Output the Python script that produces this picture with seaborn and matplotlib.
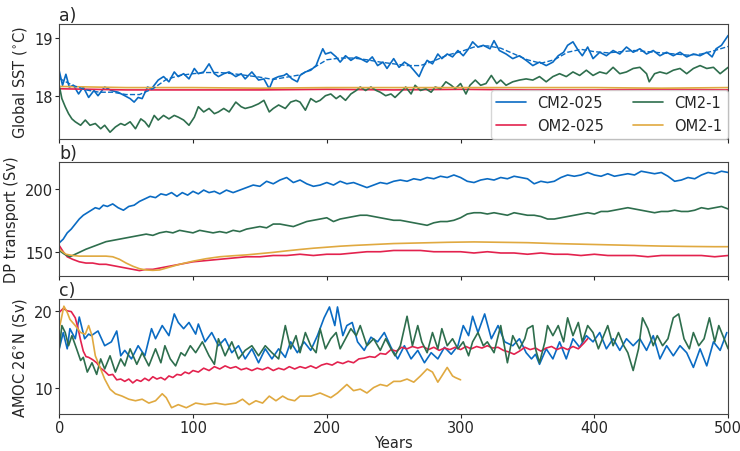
import matplotlib
matplotlib.use("agg")
import matplotlib.pyplot as plt
import seaborn as sns

# colours of the four runs
C_CM025 = "#0a6bc3"
C_OM025 = "#e3224e"
C_CM1 = "#2e6e4d"
C_OM1 = "#e0a940"

# ---- panel a: global SST (deg C) ----
sst_cm025_yr = [0, 2.5, 5, 7.5, 10.7, 14.5, 18, 22, 26, 29, 34, 39, 44, 49, 53, 56, 59, 62, 66, 69,
                74, 78, 82, 86, 89, 93, 97, 101, 104, 108, 112, 116, 119, 123, 127, 132, 136, 139, 144, 149,
                153, 157, 160, 164, 168, 170, 174, 178, 180, 184, 188, 192, 194, 197, 199, 203, 207, 210, 214, 218,
                222, 225, 230, 234, 238, 242, 245, 250, 254, 258, 262, 265, 269, 272, 275, 279, 283, 286, 290, 294,
                298, 302, 306, 309, 313, 317, 322, 325, 329, 334, 339, 344, 349, 354, 359, 364, 369, 373, 377, 380,
                384, 388, 391, 395, 399, 404, 409, 414, 419, 424, 429, 434, 439, 444, 449, 454, 459, 464, 469, 474,
                479, 484, 488, 491, 495, 500]
sst_cm025 = [18.43, 18.18, 18.37, 18.15, 18.18, 18.03, 18.15, 17.97, 18.09, 18.00, 18.15, 18.09, 18.06, 18.00, 17.95, 17.89, 17.97, 17.95, 18.15, 18.12,
             18.27, 18.33, 18.24, 18.41, 18.33, 18.38, 18.29, 18.47, 18.38, 18.41, 18.55, 18.38, 18.33, 18.38, 18.41, 18.33, 18.38, 18.29, 18.41, 18.27,
             18.29, 18.12, 18.29, 18.33, 18.35, 18.38, 18.29, 18.24, 18.35, 18.41, 18.44, 18.52, 18.64, 18.81, 18.72, 18.75, 18.67, 18.58, 18.69, 18.61,
             18.67, 18.64, 18.58, 18.67, 18.52, 18.58, 18.47, 18.64, 18.49, 18.58, 18.52, 18.44, 18.33, 18.49, 18.61, 18.55, 18.72, 18.64, 18.72, 18.67,
             18.78, 18.69, 18.81, 18.93, 18.84, 18.87, 18.81, 18.95, 18.78, 18.72, 18.64, 18.69, 18.61, 18.52, 18.58, 18.52, 18.58, 18.69, 18.75, 18.87,
             18.93, 18.78, 18.69, 18.84, 18.64, 18.75, 18.69, 18.78, 18.72, 18.84, 18.75, 18.81, 18.72, 18.78, 18.69, 18.75, 18.69, 18.75, 18.67, 18.72,
             18.69, 18.75, 18.67, 18.81, 18.87, 19.04]
sst_cm025_smooth_yr = list(range(0, 501, 10))
sst_cm025_smooth = [18.30, 18.18, 18.10, 18.06, 18.06, 18.02, 18.02, 18.12, 18.28, 18.35, 18.38, 18.40, 18.40, 18.38, 18.35, 18.32, 18.28,
                    18.32, 18.36, 18.48, 18.62, 18.65, 18.65, 18.62, 18.58, 18.55, 18.52, 18.52, 18.60, 18.70, 18.76, 18.84, 18.86, 18.82,
                    18.72, 18.62, 18.56, 18.62, 18.75, 18.80, 18.76, 18.74, 18.76, 18.78, 18.76, 18.74, 18.72, 18.70, 18.72, 18.78, 18.85]
sst_cm1_yr = [0, 2, 4.5, 7, 9.5, 12, 16, 19.5, 23, 27, 31, 34, 38, 42, 46, 49, 53, 57, 61, 64,
              67, 71, 74, 78, 82, 86, 89, 93, 97, 101, 104, 108, 112, 116, 119, 123, 127, 132, 136, 139,
              144, 149, 153, 157, 160, 164, 169, 173, 177, 180, 184, 188, 192, 195, 199, 203, 207, 210, 214, 218,
              222, 225, 229, 233, 237, 240, 244, 248, 251, 255, 259, 263, 266, 270, 274, 278, 281, 285, 289, 293,
              296, 300, 304, 307, 311, 315, 319, 323, 327, 330, 334, 339, 344, 349, 354, 359, 364, 369, 374, 379,
              384, 389, 394, 399, 404, 409, 414, 419, 424, 429, 434, 439, 441, 445, 449, 454, 459, 464, 469, 474,
              479, 484, 489, 494, 500]
sst_cm1 = [18.18, 17.95, 17.81, 17.69, 17.60, 17.55, 17.49, 17.58, 17.49, 17.52, 17.43, 17.49, 17.37, 17.46, 17.52, 17.49, 17.55, 17.43, 17.60, 17.55,
           17.46, 17.66, 17.58, 17.66, 17.60, 17.66, 17.63, 17.58, 17.49, 17.63, 17.81, 17.72, 17.78, 17.69, 17.72, 17.78, 17.72, 17.89, 17.81, 17.78,
           17.81, 17.86, 17.92, 17.72, 17.78, 17.84, 17.78, 17.89, 17.92, 17.89, 17.75, 17.95, 17.89, 17.92, 18.00, 18.03, 17.95, 18.00, 17.92, 18.03,
           18.09, 18.15, 18.09, 18.15, 18.09, 18.06, 18.00, 18.03, 17.97, 18.06, 18.15, 18.03, 18.18, 18.09, 18.12, 18.06, 18.15, 18.12, 18.24, 18.18,
           18.12, 18.21, 18.03, 18.18, 18.27, 18.18, 18.21, 18.35, 18.21, 18.27, 18.18, 18.24, 18.27, 18.29, 18.27, 18.33, 18.24, 18.33, 18.38, 18.33,
           18.41, 18.35, 18.44, 18.35, 18.41, 18.38, 18.49, 18.38, 18.41, 18.47, 18.49, 18.38, 18.24, 18.38, 18.41, 18.38, 18.44, 18.47, 18.38, 18.47,
           18.52, 18.47, 18.49, 18.38, 18.49]
sst_om_yr = list(range(0, 501, 50))
sst_om025 = [18.12, 18.10, 18.10, 18.10, 18.11, 18.10, 18.11, 18.10, 18.10, 18.11, 18.10]
sst_om1 = [18.16, 18.14, 18.14, 18.13, 18.14, 18.14, 18.14, 18.14, 18.14, 18.13, 18.14]

# ---- panel b: DP transport (Sv) ----
dp_cm025_yr = [0, 3, 6, 9, 12, 15, 18, 21, 24, 27, 30, 33, 36, 40, 44, 48, 52, 56, 60, 64,
               68, 72, 76, 80, 84, 88, 92, 96, 100, 104, 108, 112, 116, 120, 125, 130, 135, 140, 145, 150,
               155, 160, 165, 170, 175, 180, 185, 190, 195, 200, 205, 210, 215, 220, 225, 230, 235, 240, 245, 250,
               255, 260, 265, 270, 275, 280, 285, 290, 295, 300, 305, 310, 315, 320, 325, 330, 335, 340, 345, 350,
               355, 360, 365, 370, 375, 380, 385, 390, 395, 400, 405, 410, 415, 420, 425, 430, 435, 440, 445, 450,
               455, 460, 465, 470, 475, 480, 485, 490, 495, 500]
dp_cm025 = [157, 160, 165, 168, 172, 176, 179, 181, 183, 185, 184, 187, 186, 188, 185, 183, 186, 187, 190, 192,
            194, 193, 196, 195, 197, 194, 197, 195, 198, 196, 199, 197, 198, 196, 199, 197, 199, 201, 203, 202,
            206, 204, 207, 209, 205, 207, 204, 202, 203, 205, 203, 206, 204, 205, 203, 201, 203, 205, 204, 206,
            207, 206, 208, 207, 209, 208, 210, 209, 211, 209, 206, 205, 207, 208, 207, 209, 208, 210, 209, 208,
            204, 206, 205, 206, 209, 211, 210, 211, 213, 211, 210, 212, 210, 211, 212, 211, 214, 213, 212, 213,
            210, 206, 207, 209, 208, 211, 213, 212, 214, 213]
dp_cm1_yr = [0, 4, 8, 12, 16] + list(range(20, 501, 5))
dp_cm1 = [151, 148, 146, 148, 150, 152, 154, 156, 158, 159, 160, 161, 162, 163, 164, 163, 165, 166, 165, 167,
          166, 165, 167, 166, 165, 166, 165, 167, 166, 168, 169, 170, 169, 172, 172, 171, 170, 172, 174, 175,
          176, 177, 174, 176, 177, 178, 179, 179, 178, 177, 176, 175, 175, 174, 173, 172, 171, 173, 174, 174,
          175, 177, 180, 181, 181, 180, 181, 180, 179, 181, 180, 179, 179, 178, 176, 176, 177, 178, 179, 180,
          181, 180, 182, 182, 183, 184, 185, 184, 183, 182, 181, 182, 182, 183, 182, 182, 183, 185, 184, 185,
          186, 184]
dp_om025_yr = [0, 3, 6, 10, 15, 20, 25, 30, 35, 40, 45, 50, 55, 60, 65, 70, 75, 80, 85, 90,
               95, 100] + list(range(110, 501, 10))
dp_om025 = [155, 150, 146, 144, 142, 141, 141, 140, 140, 139, 138, 137, 136, 135, 136, 136, 137, 138, 139, 140,
            141, 142, 143, 144, 145, 146, 146, 147, 147, 148, 147, 148, 148, 149, 150, 150, 151, 151, 151, 150,
            150, 150, 149, 150, 149, 149, 148, 149, 148, 148, 147, 148, 147, 147, 147, 146, 147, 147, 147, 147,
            146, 147]
dp_om1_yr = [0, 5, 10, 15, 20, 25, 30, 35, 40, 45, 50, 55, 60, 65, 70, 75, 80, 90, 100, 110,
             120, 130, 140, 150, 160, 170, 180, 190, 200, 210, 220, 230, 250, 270, 290, 310, 330, 350, 370, 390,
             410, 430, 450, 470, 490, 500]
dp_om1 = [152, 148, 147, 146.5, 146.5, 146.5, 146.5, 146.5, 146, 144, 141, 138.5, 136.5, 135.5, 135.2, 135.5, 137, 140, 142.5, 144.5,
          146, 146.8, 147.5, 148.5, 149.5, 150.7, 151.8, 152.8, 153.6, 154.4, 155, 155.5, 156.5, 157, 157.5, 157.8, 157.5, 157.2, 156.5, 156,
          155.5, 155, 154.5, 154.2, 154, 154]

# ---- panel c: AMOC at 26N (Sv) ----
amoc_cm025_yr = [0, 3, 6, 8, 12, 15, 19, 22, 24, 29, 34, 39, 43, 46, 49, 54, 59, 64, 69, 72,
                 77, 82, 86, 89, 93, 97, 102, 104, 109, 114, 119, 124, 129, 134, 139, 144, 149, 154, 159, 164,
                 169, 173, 178, 183, 188, 193, 198, 202, 206, 208, 212, 215, 219, 223, 228, 233, 238, 243, 248, 253,
                 258, 263, 268, 273, 278, 283, 288, 293, 298, 302, 306, 309, 313, 318, 323, 328, 333, 339, 344, 349,
                 353, 356, 359, 364, 369, 374, 379, 384, 389, 394, 399, 404, 409, 414, 419, 424, 429, 434, 439, 444,
                 449, 454, 459, 464, 469, 474, 479, 484, 489, 494, 499]
amoc_cm025 = [15.1, 17.2, 15.1, 17.7, 16.4, 19.2, 16.4, 17.0, 16.8, 17.4, 15.5, 16.0, 17.4, 14.2, 14.9, 13.8, 15.5, 14.2, 17.7, 16.4,
              18.1, 16.8, 19.6, 18.5, 17.7, 18.5, 17.0, 18.3, 16.0, 17.2, 15.5, 16.4, 14.6, 15.5, 13.8, 15.1, 13.3, 15.1, 13.8, 15.1,
              14.0, 16.0, 14.6, 16.0, 14.9, 16.8, 19.1, 20.5, 18.1, 20.5, 16.8, 18.1, 18.5, 16.0, 14.9, 16.6, 16.0, 17.2, 15.3, 13.8,
              15.5, 13.8, 14.9, 13.3, 14.6, 13.8, 15.3, 14.4, 15.5, 18.1, 16.8, 19.3, 17.2, 19.6, 16.4, 18.1, 16.0, 15.5, 16.4, 14.6,
              13.8, 14.4, 13.1, 15.1, 13.8, 16.0, 13.8, 16.4, 15.3, 16.8, 16.0, 17.2, 15.1, 16.4, 14.9, 16.4, 15.5, 16.4, 14.9, 16.8,
              13.8, 15.5, 14.2, 15.5, 14.6, 12.7, 15.1, 12.9, 16.0, 14.9, 17.2]
amoc_cm1_yr = [0, 2, 4.5, 7, 9.5, 13, 16, 18, 21, 24.5, 28, 31, 34, 38, 42, 46, 49, 53, 58, 62,
               67, 72, 76, 79, 83, 87, 91, 94, 98, 102, 107, 112, 116, 119, 124, 129, 134, 139, 144, 149,
               154, 159, 164, 169, 173, 177, 180, 184, 188, 192, 195, 199, 203, 207, 210, 214, 218, 222, 225, 230,
               235, 240, 244, 248, 251, 255, 260, 264, 268, 271, 275, 279, 283, 286, 290, 294, 298, 302, 306, 309,
               313, 317, 320, 325, 330, 335, 339, 344, 348, 350, 354, 356, 359, 363, 365, 369, 373, 377, 380, 384,
               388, 391, 395, 399, 403, 406, 410, 414, 418, 422, 425, 429, 433, 436, 440, 444, 447, 451, 455, 459,
               463, 467, 471, 474, 478, 482, 486, 490, 493, 497, 500]
amoc_cm1 = [15.1, 18.1, 17.2, 15.5, 16.8, 15.1, 13.6, 14.0, 12.1, 13.3, 11.8, 13.8, 12.5, 14.2, 12.1, 13.8, 12.9, 15.1, 13.1, 14.6,
            12.9, 15.1, 13.3, 15.5, 13.8, 12.9, 14.6, 14.2, 15.5, 14.6, 16.0, 14.2, 13.1, 16.4, 14.2, 16.0, 13.8, 14.9, 15.5, 14.2,
            15.5, 14.6, 13.8, 18.1, 15.1, 16.8, 14.6, 17.2, 15.5, 14.6, 17.7, 15.1, 16.4, 17.2, 15.1, 16.4, 17.7, 16.8, 18.1, 15.5,
            16.4, 14.9, 16.4, 15.1, 14.2, 15.5, 19.3, 15.5, 18.1, 16.0, 14.6, 17.2, 15.1, 17.7, 15.5, 16.4, 15.1, 16.0, 14.2, 16.0,
            17.2, 15.5, 16.0, 14.6, 18.1, 13.3, 16.8, 15.1, 16.4, 17.7, 18.1, 15.1, 13.3, 16.0, 18.1, 16.8, 18.1, 16.0, 19.1, 16.8,
            18.5, 16.0, 18.1, 17.2, 15.1, 16.4, 18.1, 15.5, 17.2, 15.5, 14.6, 12.3, 15.1, 19.1, 17.7, 15.5, 16.8, 15.5, 16.4, 19.1,
            19.6, 16.4, 15.1, 17.2, 15.5, 16.4, 19.1, 16.0, 18.1, 16.4, 15.1]
amoc_om025_yr = [0, 3, 6, 9, 12, 14, 16, 18, 20, 22, 25, 28, 31, 34, 37, 40, 43, 46, 49, 52,
                 55, 58, 61, 64, 67, 70, 73, 76, 79, 82, 85, 88, 91, 94, 97, 100] + list(range(104, 393, 4)) + [395]
amoc_om025 = [19.8, 20.3, 20.0, 19.9, 19.1, 17.8, 16.2, 14.8, 14.1, 14.0, 13.7, 13.3, 12.6, 12.2, 11.7, 11.8, 11.1, 11.2, 10.9, 11.2,
              10.7, 11.1, 10.9, 11.3, 11.0, 11.5, 11.2, 11.4, 11.1, 11.6, 11.4, 11.8, 11.7, 12.1, 11.9, 12.3,
              12.1, 12.6, 12.3, 12.8, 12.5, 12.9, 12.6, 12.8, 12.4, 12.6, 12.3, 12.6, 12.4, 12.7, 12.3, 12.6, 12.4, 12.8, 12.5, 12.8,
              12.6, 12.9, 12.6, 13.0, 13.2, 13.0, 13.4, 13.2, 13.5, 13.3, 13.8, 13.9, 14.1, 14.0, 14.5, 14.4, 15.0, 14.8, 15.3, 15.1,
              15.4, 15.2, 15.4, 15.0, 15.3, 14.9, 15.2, 15.0, 15.3, 15.0, 15.4, 15.1, 15.4, 15.2, 15.5, 15.2, 15.3, 14.9, 14.7, 14.4,
              14.8, 15.3, 15.0, 15.2, 14.8, 15.2, 15.4, 15.0, 15.3, 15.0, 15.4, 15.1, 15.8, 16.4]
amoc_om1_yr = [0, 1, 3.5, 6, 8, 12, 16, 19.5, 22, 24.5, 27, 31, 34, 38, 42, 47, 52, 57, 62, 67,
               72, 77, 80, 84, 89, 95, 102, 109, 117, 124, 132, 137, 142, 147, 152, 157, 162, 167, 171, 176,
               180, 188, 195, 203, 208, 215, 220, 225, 230, 235, 240, 245, 250, 255, 260, 265, 270, 275, 279, 283,
               286, 290, 294, 296, 300]
amoc_om1 = [17.8, 18.5, 20.6, 19.8, 18.9, 18.1, 17.2, 17.0, 18.1, 16.8, 14.2, 12.5, 11.2, 9.9, 9.3, 9.0, 8.6, 8.4, 8.6, 8.1,
            8.4, 9.3, 8.8, 7.5, 7.9, 7.5, 8.1, 7.9, 8.1, 7.9, 8.1, 8.6, 7.9, 8.4, 8.1, 9.0, 8.4, 9.0, 8.6, 8.4,
            9.0, 9.0, 9.4, 8.8, 9.4, 10.5, 9.7, 9.9, 9.4, 10.1, 10.5, 10.3, 10.9, 10.9, 11.2, 10.8, 11.6, 12.5, 12.1, 10.8,
            11.6, 12.7, 11.6, 11.4, 11.1]

sns.set_style("ticks")
plt.rcParams["font.family"] = ["DejaVu Sans"]
plt.rcParams["font.size"] = 10.5
plt.rcParams["axes.edgecolor"] = "#444444"

fig, axes = plt.subplots(3, 1, figsize=(7.4, 4.52), dpi=100, sharex=True)
fig.subplots_adjust(left=0.08, right=0.984, top=0.945, bottom=0.082, hspace=0.2)
lw = 1.2

# a) SST
ax = axes[0]
sns.lineplot(x=sst_cm025_yr, y=sst_cm025, ax=ax, color=C_CM025, lw=lw, label="CM2-025")
sns.lineplot(x=sst_om_yr, y=sst_om025, ax=ax, color=C_OM025, lw=1.8, label="OM2-025")
sns.lineplot(x=sst_cm1_yr, y=sst_cm1, ax=ax, color=C_CM1, lw=lw, label="CM2-1")
sns.lineplot(x=sst_om_yr, y=sst_om1, ax=ax, color=C_OM1, lw=1.8, alpha=0.8, label="OM2-1")
sns.lineplot(x=sst_cm025_smooth_yr, y=sst_cm025_smooth, ax=ax, color=C_CM025, lw=1.0, linestyle="--")
handles, labels = ax.get_legend_handles_labels()
for h in handles:
    h.set_linewidth(1.2)
    h.set_alpha(1)
ax.legend(handles[:4], labels[:4], ncol=2, loc="lower right", bbox_to_anchor=(1, 0),
          borderaxespad=0, fontsize=10.5, columnspacing=2.0, handlelength=2.0)
ax.set_ylim(17.26, 19.24)
ax.set_yticks([18, 19])
ax.set_ylabel("Global SST ($^{\\circ}$C)")
ax.set_title("a)", loc="left", fontsize=12.5, pad=2)

# b) DP transport
ax = axes[1]
sns.lineplot(x=dp_cm025_yr, y=dp_cm025, ax=ax, color=C_CM025, lw=lw)
sns.lineplot(x=dp_om025_yr, y=dp_om025, ax=ax, color=C_OM025, lw=lw)
sns.lineplot(x=dp_cm1_yr, y=dp_cm1, ax=ax, color=C_CM1, lw=lw)
sns.lineplot(x=dp_om1_yr, y=dp_om1, ax=ax, color=C_OM1, lw=lw)
ax.set_ylim(130.5, 221.7)
ax.set_yticks([150, 200])
ax.set_ylabel("DP transport (Sv)")
ax.set_title("b)", loc="left", fontsize=12.5, pad=2)

# c) AMOC
ax = axes[2]
sns.lineplot(x=amoc_cm025_yr, y=amoc_cm025, ax=ax, color=C_CM025, lw=lw)
sns.lineplot(x=amoc_om025_yr, y=amoc_om025, ax=ax, color=C_OM025, lw=lw)
sns.lineplot(x=amoc_cm1_yr, y=amoc_cm1, ax=ax, color=C_CM1, lw=lw)
sns.lineplot(x=amoc_om1_yr, y=amoc_om1, ax=ax, color=C_OM1, lw=lw)
ax.set_ylim(6.7, 21.5)
ax.set_yticks([10, 20])
ax.set_ylabel("AMOC 26$^{\\circ}$N (Sv)")
ax.set_title("c)", loc="left", fontsize=12.5, pad=2)
ax.set_xlim(0, 500)
ax.set_xticks([0, 100, 200, 300, 400, 500])
ax.set_xlabel("Years", labelpad=0)

for ax in axes:
    ax.tick_params(labelsize=10.5, length=3, width=0.8, pad=1.5)

fig.savefig("out.png", dpi=100)
